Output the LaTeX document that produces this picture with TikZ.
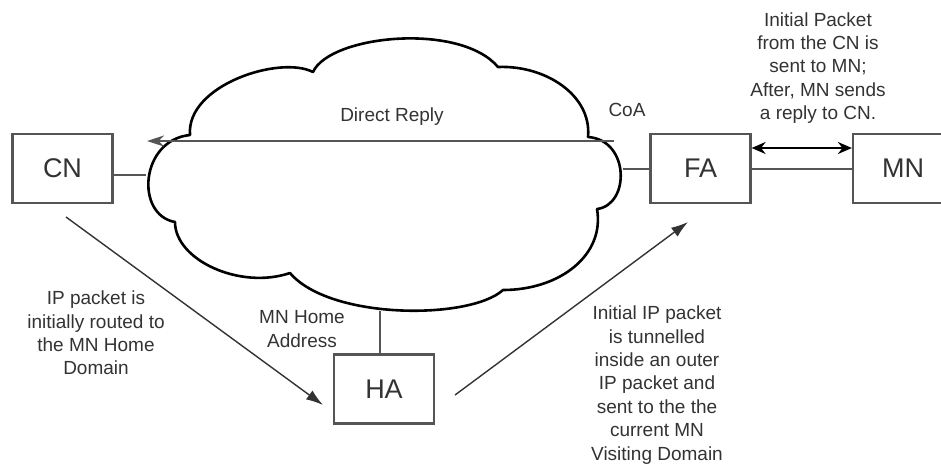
\documentclass[tikz,border=0pt]{standalone}
\usepackage{fontspec}
\setmainfont{Liberation Sans}
\usetikzlibrary{arrows.meta}
\definecolor{boxgray}{HTML}{555555}
\definecolor{txtgray}{HTML}{333333}
\begin{document}
\begin{tikzpicture}[x=1pt,y=-1pt,
  box/.style={draw=boxgray,line width=2.2pt,minimum width=100pt,minimum height=69pt,inner sep=0pt,font=\fontsize{27}{30}\selectfont,text=txtgray},
  lbl/.style={align=center,font=\fontsize{19}{23.4}\selectfont,text=txtgray,inner sep=0pt},
  conn/.style={draw=boxgray,line width=2pt},
  arr/.style={draw=txtgray,line width=1.4pt,-{Latex[length=17pt,width=11pt]}},
  cloudline/.style={draw=black,line width=2.6pt,line join=round},
]
\clip (0,0) rectangle (941,464);
\fill[white] (0,0) rectangle (941,464);

% cloud
\draw[cloudline] (190,135)
  .. controls (186,85) and (280,55) .. (313,72)
  .. controls (330,35) and (460,22) .. (498,67)
  .. controls (545,65) and (592,95) .. (588,137)
  .. controls (630,140) and (630,205) .. (597,209)
  .. controls (605,255) and (560,290) .. (503,290)
  .. controls (470,320) and (330,320) .. (290,273)
  .. controls (240,290) and (175,260) .. (175,222)
  .. controls (135,215) and (140,140) .. cycle;

% boxes
\node[box] (CN) at (62.5,168.5) {CN};
\node[box] (FA) at (700.5,168.5) {FA};
\node[box] (MN) at (903,168.5) {MN};
\node[box] (HA) at (384,389) {HA};

% cloud attachment points
\coordinate (cloudL) at (146,175);
\coordinate (cloudR) at (623,169);
\coordinate (cloudB) at (380,311);
\coordinate (drR) at (614,141);
\coordinate (drL) at (147,141);
\coordinate (cnOut) at (66,217);
\coordinate (haIn) at (323,405);
\coordinate (haOut) at (455,395);
\coordinate (faIn) at (688,222);

% connectors
\draw[conn] (cloudL -| CN.east) -- (cloudL);
\draw[conn] (cloudR) -- (cloudR -| FA.west);
\draw[conn] (FA.east) -- (MN.west);
\draw[conn,draw=black,{Stealth[length=14pt,width=12pt]}-{Stealth[length=14pt,width=12pt]}] ([yshift=20.5pt]FA.east) -- ([yshift=20.5pt]MN.west);
\draw[conn] (cloudB) -- (cloudB |- HA.north);
\draw[conn,-{Stealth[length=17pt,width=11pt]}] (drR) -- (drL);
\draw[arr] (cnOut) -- (haIn);
\draw[arr] (haOut) -- (faIn);

% labels
\node[lbl] (dr) at (392,117) {Direct Reply};
\node[lbl] (coa) at (627,110) {CoA};
\node[lbl] (init) at (818,68) {Initial Packet\\from the CN is\\sent to MN;\\After, MN sends\\a reply to CN.};
\node[lbl] (iprt) at (96,333) {IP packet is\\initially routed to\\the MN Home\\Domain};
\node[lbl] (mnha) at (302,329) {MN Home\\Address};
\node[lbl] (tun) at (657,385) {Initial IP packet\\is tunnelled\\inside an outer\\IP packet and\\sent to the the\\current MN\\Visiting Domain};
\end{tikzpicture}
\end{document}
